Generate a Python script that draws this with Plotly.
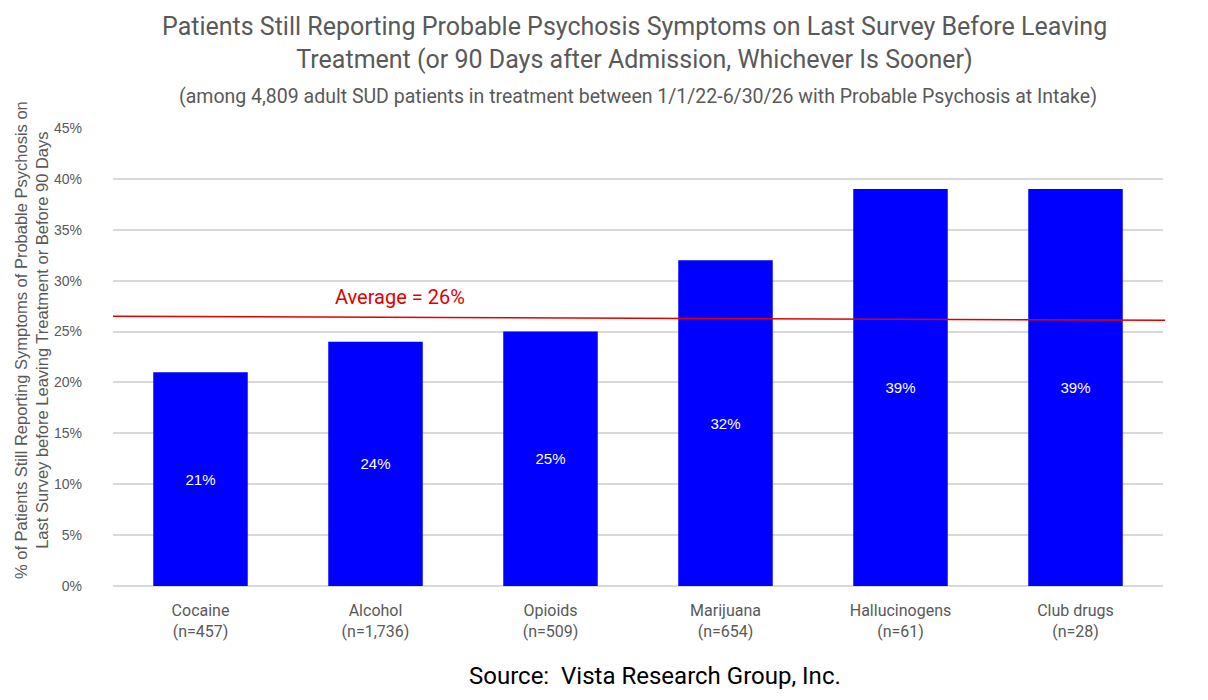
import plotly.graph_objects as go

# data
drugs = ["Cocaine", "Alcohol", "Opioids", "Marijuana", "Hallucinogens", "Club drugs"]
sample_sizes = ["457", "1,736", "509", "654", "61", "28"]
pct_still_psychotic = [21, 24, 25, 32, 39, 39]
average_pct = 26
y_ticks = [0, 5, 10, 15, 20, 25, 30, 35, 40, 45]

x_labels = [f"{d}<br>(n={n})" for d, n in zip(drugs, sample_sizes)]

GREY = "#595959"
NARROW = "Roboto"

fig = go.Figure()
fig.add_trace(go.Bar(
    x=x_labels,
    y=pct_still_psychotic,
    marker=dict(color="#0000FF", line=dict(width=0)),
    text=[f"{v}%" for v in pct_still_psychotic],
    textposition="inside",
    insidetextanchor="middle",
    textfont=dict(color="white", size=15, family="Liberation Sans"),
    hoverinfo="skip",
))

# average line, drawn slightly tilted as in the original
fig.add_shape(type="line", xref="paper", yref="y",
              x0=0, x1=1.002, y0=average_pct + 0.5, y1=average_pct + 0.1,
              line=dict(color="#E00000", width=1.5))
fig.add_annotation(xref="paper", yref="y", x=0.273, y=average_pct + 2.4,
                   xanchor="center", yanchor="middle",
                   text=f"Average = {average_pct}%", showarrow=False,
                   font=dict(color="#E00000", size=20, family=NARROW))

# titles
fig.add_annotation(xref="paper", yref="paper", x=0.497, y=1.0, yshift=85,
                   xanchor="center", yanchor="middle",
                   text="Patients Still Reporting Probable Psychosis Symptoms on Last Survey Before Leaving"
                        "<br>Treatment (or 90 Days after Admission, Whichever Is Sooner)",
                   showarrow=False,
                   font=dict(color=GREY, size=25, family=NARROW))
fig.add_annotation(xref="paper", yref="paper", x=0.5, y=1.0, yshift=32,
                   xanchor="center", yanchor="middle",
                   text="(among 4,809 adult SUD patients in treatment between 1/1/22-6/30/26 "
                        "with Probable Psychosis at Intake)",
                   showarrow=False,
                   font=dict(color=GREY, size=19.5, family=NARROW))
fig.add_annotation(xref="paper", yref="paper", x=0, y=0.537, xshift=-82,
                   text="% of Patients Still Reporting Symptoms of Probable Psychosis on"
                        "<br>Last Survey before Leaving Treatment or Before 90 Days",
                   showarrow=False, textangle=-90, xanchor="center", yanchor="middle",
                   font=dict(color=GREY, size=16.5, family="Liberation Sans"))
fig.add_annotation(xref="paper", yref="paper", x=0.516, y=0, yshift=-90,
                   xanchor="center", yanchor="middle",
                   text="Source:  Vista Research Group, Inc.",
                   showarrow=False,
                   font=dict(color="black", size=24, family=NARROW))

fig.update_layout(
    width=1192, height=684,
    margin=dict(l=105, r=37, t=120, b=106),
    plot_bgcolor="white", paper_bgcolor="white",
    bargap=0.46,
    showlegend=False,
    font=dict(family="Liberation Sans", color=GREY),
)
fig.update_xaxes(showline=False, ticks="", ticklabelstandoff=13,
                 tickfont=dict(size=16, color=GREY, family=NARROW))
fig.update_yaxes(range=[0, 45], tickvals=y_ticks,
                 ticktext=[f"{t}%" for t in y_ticks],
                 showgrid=True, gridcolor="#D9D9D9", gridwidth=1.5,
                 zeroline=True, zerolinecolor="#D9D9D9", zerolinewidth=1.5,
                 ticks="", ticklabelstandoff=30,
                 tickfont=dict(size=14, color=GREY))

fig.write_html("out.html")
